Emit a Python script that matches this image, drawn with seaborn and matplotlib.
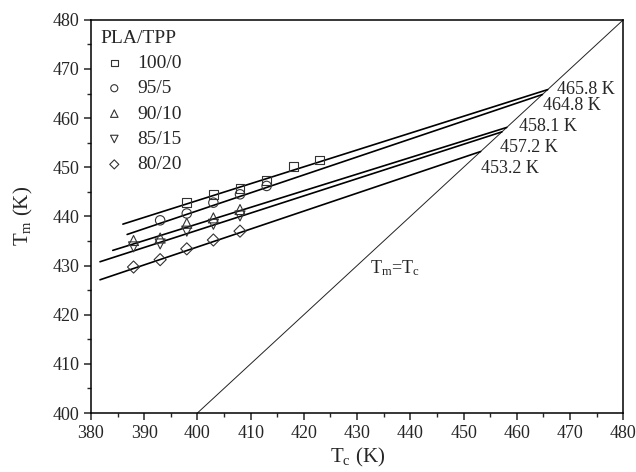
import numpy as np
import pandas as pd
import matplotlib
matplotlib.use("Agg")
import matplotlib.pyplot as plt
import seaborn as sns

# ---- data ----
groups = ["100/0", "95/5", "90/10", "85/15", "80/20"]
tc_100_0 = [398, 403, 408, 413, 418, 423]
tm_100_0 = [442.8, 444.5, 445.6, 447.3, 450.1, 451.5]
tc_95_5 = [393, 398, 403, 408, 413]
tm_95_5 = [439.2, 440.6, 442.8, 444.5, 446.2]
tc_90_10 = [388, 393, 398, 403, 408]
tm_90_10 = [435.1, 435.6, 438.6, 439.7, 441.4]
tc_85_15 = [388, 393, 398, 403, 408]
tm_85_15 = [433.8, 434.4, 437.0, 438.4, 440.1]
tc_80_20 = [388, 393, 398, 403, 408]
tm_80_20 = [429.7, 431.2, 433.4, 435.2, 437.0]

# Hoffman-Weeks extrapolation: equilibrium melting points and slopes
tm0 = [465.8, 464.8, 458.1, 457.2, 453.2]
phi = [0.343, 0.365, 0.338, 0.350, 0.365]
fit_start = [386.0, 386.8, 384.1, 381.7, 381.7]

tm0_labels = ["465.8 K", "464.8 K", "458.1 K", "457.2 K", "453.2 K"]
label_pos_x = [467.6, 465.0, 460.4, 456.9, 453.2]
label_pos_y = [465.8, 462.5, 458.2, 454.0, 449.8]

tcs = [tc_100_0, tc_95_5, tc_90_10, tc_85_15, tc_80_20]
tms = [tm_100_0, tm_95_5, tm_90_10, tm_85_15, tm_80_20]

df = pd.concat([pd.DataFrame({"Tc": t, "Tm": m, "grp": g}) for t, m, g in zip(tcs, tms, groups)],
               ignore_index=True)

# ---- style ----
sns.set_style("ticks")
plt.rcParams["font.family"] = ["Liberation Serif", "DejaVu Serif"]
plt.rcParams["mathtext.fontset"] = "custom"
plt.rcParams["mathtext.rm"] = "Liberation Serif"
plt.rcParams["mathtext.it"] = "Liberation Serif"

fig = plt.figure(figsize=(6.36, 4.72), dpi=100)
ax = fig.add_axes([0.143, 0.125, 0.837, 0.833])

markers = {"100/0": "s", "95/5": "o", "90/10": "^", "85/15": "v", "80/20": "D"}
sizes = {"100/0": 40, "95/5": 46, "90/10": 52, "85/15": 52, "80/20": 38}
for g in groups:
    sub = df[df["grp"] == g]
    sns.scatterplot(data=sub, x="Tc", y="Tm", marker=markers[g], s=sizes[g],
                    facecolor="none", edgecolor="#333333", linewidth=0.8, ax=ax,
                    label=g, zorder=3)

# fitted lines
for p, t0, xs in zip(phi, tm0, fit_start):
    xx = np.array([xs, t0])
    yy = p * xx + (1 - p) * t0
    ax.plot(xx, yy, color="black", lw=1.2, zorder=2)

# Tm = Tc line
diag = np.array([380, 480])
ax.plot(diag, diag, color="#222222", lw=0.7, zorder=1)
ax.text(432.5, 429.5, r"$\mathrm{T_m}$=$\mathrm{T_c}$", fontsize=13, va="center", ha="left")

for lab, x, y in zip(tm0_labels, label_pos_x, label_pos_y):
    ax.text(x, y, lab, fontsize=13, va="center", ha="left")

ax.set_xlim(380, 480)
ax.set_ylim(400, 480)
ax.set_xticks(np.arange(380, 481, 10))
ax.set_yticks(np.arange(400, 481, 10))
ax.set_xticks(np.arange(385, 480, 10), minor=True)
ax.set_yticks(np.arange(405, 480, 10), minor=True)
ax.tick_params(axis="both", which="major", direction="out", length=5, width=1.1, labelsize=13,
               top=False, right=False)
ax.tick_params(axis="both", which="minor", direction="out", length=3, width=1.0,
               top=False, right=False)
for s in ax.spines.values():
    s.set_visible(True)
    s.set_linewidth(1.1)
    s.set_color("black")

ax.set_xlabel(r"$\mathrm{T_c}$ (K)", fontsize=15, labelpad=3)
ax.set_ylabel(r"$\mathrm{T_m}$ (K)", fontsize=15, labelpad=12)

handles, labels = ax.get_legend_handles_labels()
leg = ax.legend(handles, labels, title="PLA/TPP", loc="upper left",
                bbox_to_anchor=(0.0, 1.0), frameon=False, fontsize=14,
                title_fontsize=14, handletextpad=0.5, handlelength=1.4,
                labelspacing=0.4, markerscale=0.75, borderaxespad=0.1)
leg._legend_box.align = "left"

fig.savefig("out.png", dpi=100)
